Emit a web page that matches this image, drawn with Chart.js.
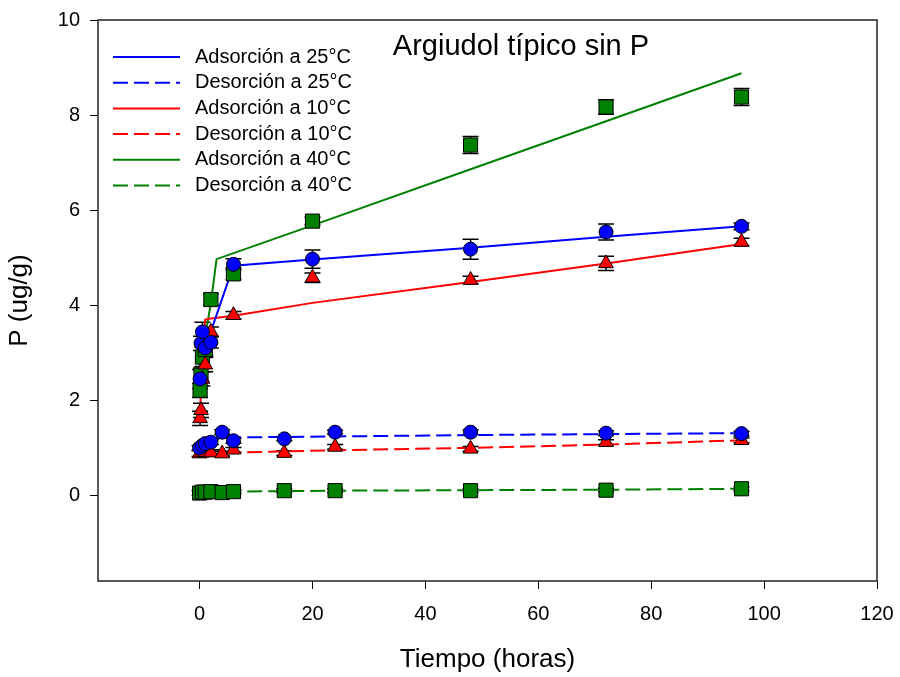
<!DOCTYPE html>
<html>
<head>
<meta charset="utf-8">
<title>Argiudol típico sin P</title>
<script src="https://cdn.jsdelivr.net/npm/chart.js@4.4.1/dist/chart.umd.min.js"></script>
<style>
  html, body { margin: 0; padding: 0; background: #fff; }
  #wrap { width: 900px; height: 677px; }
</style>
</head>
<body>
<div id="wrap"><canvas id="c" width="900" height="677"></canvas></div>
<script>
// axis ticks
const xTicks = [0, 20, 40, 60, 80, 100, 120];
const yTicks = [0, 2, 4, 6, 8, 10];

// measured points (horas)
const adsTimes = [0.083, 0.25, 0.5, 1, 2, 6, 20, 48, 72, 96];
const desTimes = [0, 0.5, 1, 2, 4, 6, 15, 24, 48, 72, 96];

const ads25 = [2.45, 3.2, 3.44, 3.1, 3.22, 4.86, 4.97, 5.18, 5.54, 5.66];
const ads25Err = [0.2, 0.15, 0.2, 0.15, 0.12, 0.12, 0.19, 0.21, 0.17, 0.07];
const ads10 = [1.62, 1.79, 2.45, 2.75, 3.44, 3.79, 4.58, 4.53, 4.88, 5.33];
const ads10Err = [0.15, 0.15, 0.15, 0.15, 0.1, 0.08, 0.1, 0.08, 0.15, 0.08];
const ads40 = [2.21, 2.53, 2.91, 3.07, 4.12, 4.66, 5.77, 7.37, 8.17, 8.38];
const ads40Err = [0.15, 0.15, 0.2, 0.15, 0.12, 0.12, 0.08, 0.18, 0.15, 0.18];

const des25 = [1.0, 1.05, 1.09, 1.12, 1.33, 1.15, 1.19, 1.33, 1.33, 1.31, 1.3];
const des25Err = [0.05, 0.05, 0.05, 0.05, 0.05, 0.05, 0.04, 0.04, 0.05, 0.05, 0.05];
const des10 = [0.88, 0.9, 0.91, 0.9, 0.88, 0.96, 0.89, 1.02, 0.98, 1.12, 1.16];
const des10Err = [0.06, 0.06, 0.06, 0.06, 0.05, 0.05, 0.05, 0.05, 0.05, 0.05, 0.05];
const des40 = [0.05, 0.07, 0.07, 0.08, 0.06, 0.08, 0.1, 0.1, 0.1, 0.11, 0.14];
const des40Err = [0.05, 0.04, 0.04, 0.04, 0.04, 0.04, 0.04, 0.04, 0.04, 0.04, 0.04];

// fitted curves
const fit25AdsX = [0.083, 0.5, 1, 2, 6, 20, 48, 72, 96];
const fit25AdsY = [2.7, 3.1, 3.3, 3.45, 4.83, 4.96, 5.21, 5.44, 5.66];
const fit10AdsX = [0.083, 0.25, 0.5, 1, 2, 6, 20, 48, 72, 96];
const fit10AdsY = [1.75, 2.2, 2.9, 3.7, 3.72, 3.78, 4.05, 4.49, 4.88, 5.29];
const fit40AdsX = [0.083, 0.5, 2, 3, 20, 48, 72, 96];
const fit40AdsY = [2.3, 3.0, 4.05, 4.97, 5.68, 6.86, 7.87, 8.88];

const fitDesX = [1, 6, 24, 48, 72, 96];
const fit25DesY = [1.2, 1.22, 1.24, 1.27, 1.29, 1.31];
const fit10DesY = [0.86, 0.9, 0.95, 1.0, 1.07, 1.16];
const fit40DesY = [0.07, 0.08, 0.1, 0.11, 0.12, 0.14];

const BLUE = '#0000ff', RED = '#ff0000', GREEN = '#008000';
const FONT = "'Liberation Sans', Arial, sans-serif";

function pts(xs, ys){ return xs.map((x, i) => ({ x: x, y: ys[i] })); }

function lineSet(label, xs, ys, color, dashed){
  return {
    label, data: pts(xs, ys), showLine: true, borderColor: color, borderWidth: 2,
    borderDash: dashed ? [15, 6] : [], pointRadius: 0, fill: false, order: 2, isFit: true
  };
}
function markSet(xs, ys, err, color, style, r){
  return {
    label: '', data: pts(xs, ys), showLine: false, pointStyle: style, pointRadius: r,
    pointBackgroundColor: color, pointBorderColor: '#000', pointBorderWidth: 1,
    order: 1, err: err
  };
}

const datasets = [
  lineSet('Adsorción a 25°C', fit25AdsX, fit25AdsY, BLUE, false),
  lineSet('Desorción a 25°C', fitDesX, fit25DesY, BLUE, true),
  lineSet('Adsorción a 10°C', fit10AdsX, fit10AdsY, RED, false),
  lineSet('Desorción a 10°C', fitDesX, fit10DesY, RED, true),
  lineSet('Adsorción a 40°C', fit40AdsX, fit40AdsY, GREEN, false),
  lineSet('Desorción a 40°C', fitDesX, fit40DesY, GREEN, true),
  markSet(adsTimes, ads25, ads25Err, BLUE, 'circle', 7),
  markSet(desTimes, des25, des25Err, BLUE, 'circle', 7),
  markSet(adsTimes, ads10, ads10Err, RED, 'triangle', 8.5),
  markSet(desTimes, des10, des10Err, RED, 'triangle', 8.5),
  markSet(adsTimes, ads40, ads40Err, GREEN, 'rect', 10),
  markSet(desTimes, des40, des40Err, GREEN, 'rect', 10)
];

// error bars, drawn under the marks
const errorBars = {
  id: 'errorBars',
  beforeDatasetsDraw(chart){
    const ctx = chart.ctx, xs = chart.scales.x, ys = chart.scales.y;
    ctx.save();
    ctx.strokeStyle = '#000';
    ctx.lineWidth = 1.5;
    chart.data.datasets.forEach(ds => {
      if(!ds.err) return;
      ds.data.forEach((p, i) => {
        const e = ds.err[i];
        const px = xs.getPixelForValue(p.x);
        const y1 = ys.getPixelForValue(p.y + e), y2 = ys.getPixelForValue(p.y - e);
        ctx.beginPath();
        ctx.moveTo(px, y1); ctx.lineTo(px, y2);
        ctx.moveTo(px - 8, y1); ctx.lineTo(px + 8, y1);
        ctx.moveTo(px - 8, y2); ctx.lineTo(px + 8, y2);
        ctx.stroke();
      });
    });
    ctx.restore();
  }
};

// frame, title and legend inside the plot
const decor = {
  id: 'decor',
  afterDraw(chart){
    const ctx = chart.ctx, a = chart.chartArea;
    ctx.save();
    ctx.strokeStyle = '#222';
    ctx.lineWidth = 1.5;
    ctx.strokeRect(a.left, a.top, a.right - a.left, a.bottom - a.top);

    ctx.fillStyle = '#000';
    ctx.textBaseline = 'middle';
    ctx.textAlign = 'center';
    ctx.font = '29px ' + FONT;
    ctx.fillText('Argiudol típico sin P', 521, 47);

    ctx.textAlign = 'left';
    ctx.font = '20px ' + FONT;
    chart.data.datasets.filter(d => d.isFit).forEach((d, i) => {
      const y = 57 + i * 25.7;
      ctx.strokeStyle = d.borderColor;
      ctx.lineWidth = 2;
      ctx.setLineDash(d.borderDash);
      ctx.beginPath(); ctx.moveTo(113, y); ctx.lineTo(180, y); ctx.stroke();
      ctx.setLineDash([]);
      ctx.fillText(d.label, 195, y);
    });
    ctx.restore();
  }
};

new Chart(document.getElementById('c'), {
  type: 'scatter',
  data: { datasets },
  plugins: [errorBars, decor],
  options: {
    responsive: false,
    animation: false,
    events: [],
    layout: { padding: { left: 0, right: 23, top: 20, bottom: 0 } },
    plugins: { legend: { display: false }, tooltip: { enabled: false } },
    scales: {
      x: {
        type: 'linear', min: -18, max: 120,
        afterBuildTicks: s => { s.ticks = xTicks.map(v => ({ value: v })); },
        afterFit: s => { s.height = 96; s.paddingLeft = 0; s.paddingRight = 0; },
        grid: { drawOnChartArea: false, drawTicks: true, tickLength: 8, color: '#000', lineWidth: 1 },
        border: { display: false },
        ticks: { color: '#000', padding: 13, maxRotation: 0, font: { size: 20, family: FONT } },
        title: { display: true, text: 'Tiempo (horas)', color: '#000', padding: { top: 0, bottom: 4 },
                 font: { size: 26, family: FONT, lineHeight: 1 } }
      },
      y: {
        type: 'linear', min: -1.8, max: 10,
        afterBuildTicks: s => { s.ticks = yTicks.map(v => ({ value: v })); },
        afterFit: s => { s.width = 98; s.paddingTop = 0; s.paddingBottom = 0; },
        grid: { drawOnChartArea: false, drawTicks: true, tickLength: 8, color: '#000', lineWidth: 1 },
        border: { display: false },
        ticks: { color: '#000', padding: 10, font: { size: 20, family: FONT } },
        title: { display: true, text: 'P (ug/g)', color: '#000', padding: { top: 7, bottom: 0 },
                 font: { size: 26, family: FONT, lineHeight: 1 } }
      }
    }
  }
});
</script>
</body>
</html>
